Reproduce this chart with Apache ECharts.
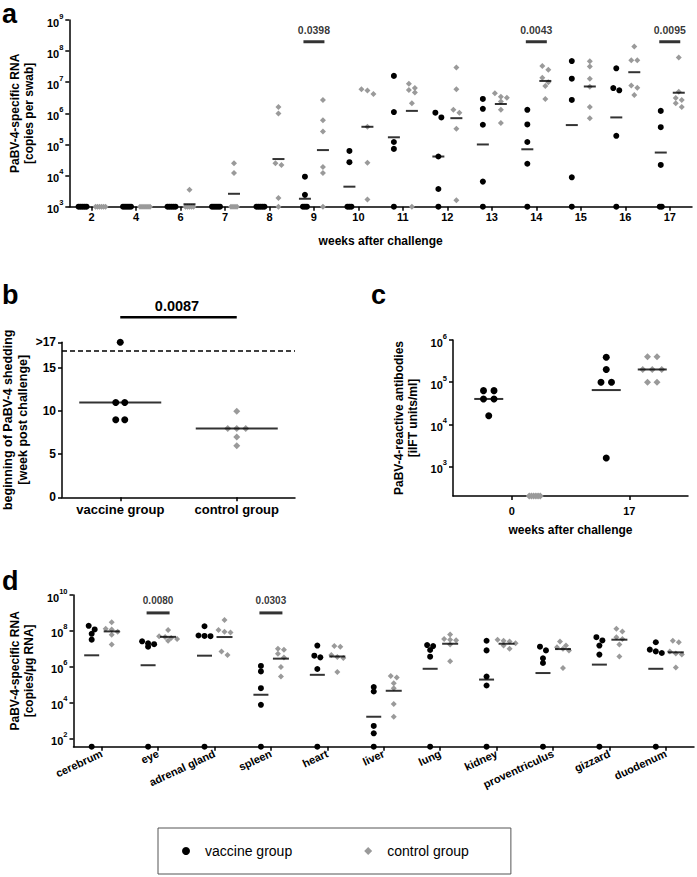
<!DOCTYPE html>
<html><head><meta charset="utf-8">
<script src="https://cdn.jsdelivr.net/npm/echarts@6/dist/echarts.min.js"></script>
<style>html,body{margin:0;padding:0;background:#fff}#chart{width:697px;height:877px}</style>
</head><body><div id="chart"></div>
<script>
const FONT = 'Arial, "Liberation Sans", Helvetica, sans-serif';
const INK = '#000000';
const GREY = '#9a9a9a';

// ---------- panel a: shedding (copies per swab); 0 = not detected ----------
const weeksA = ['2','4','6','7','8','9','10','11','12','13','14','15','16','17'];
const vaccA = [
  [0,0,0,0,0],
  [0,0,0,0,0],
  [0,0,0,0,0],
  [0,0,0,0,0],
  [0,0,0,0,0],
  [9200,2400,0,0,0],
  [62000,27000,0,0,0],
  [1.6e7,1.1e6,1.2e5,7.2e4,0],
  [1.05e6,7.4e5,4.1e4,3.7e3,0],
  [2.9e6,1.4e6,4.3e5,6.4e3,0],
  [1.3e6,4.4e5,1.2e5,2.4e4,0],
  [4.8e7,1.3e7,2.7e6,8.8e3,0],
  [2.8e7,6.5e6,5.5e6,1.9e5,0],
  [1.2e6,3.6e5,2.2e4,0,0]
];
const ctrlA = [
  [0,0,0,0,0,0],
  [0,0,0,0,0,0],
  [3500,0,0,0,0,0],
  [2.5e4,1.2e4,0,0,0,0],
  [1.6e6,9.8e5,2.5e4,2.2e4,1.9e3,0],
  [2.7e6,6e5,2.6e5,1.9e4,1.2e4,0],
  [5.9e6,5.4e6,4.2e6,3.7e5,2.6e4,1.7e3],
  [8.9e6,6.5e6,5.6e6,4.7e6,2.1e6,0],
  [3e7,5.9e6,1.3e6,1.05e6,3.2e5,1.6e3],
  [4.4e6,3.4e6,3.2e6,2.4e6,1.3e6,4.9e5],
  [3.3e7,2.5e7,1.4e7,1e7,7.6e6,2.9e6],
  [4.7e7,3.2e7,1.3e7,7.1e6,1.6e6,6.9e5],
  [1.4e8,5.1e7,5.1e7,7.8e6,6.6e6,3.9e6],
  [6.2e7,4.9e6,3.1e6,2.7e6,2.1e6,1.6e6]
];
const vaccMeanA = [null,null,null,null,null,1800,4400,1.7e5,4.1e4,1e5,7e4,4.2e5,7.4e5,5.5e4];
const ctrlMeanA = [null,null,1200,2600,3.4e4,6.6e4,3.7e5,1.2e6,7e5,2e6,1.1e7,7.3e6,2.1e7,4.6e6];
const sigWeeksA = ['9','14','17'];
const sigTextA = ['0.0398','0.0043','0.0095'];
const sigLevelA = 2e8;
const yTicksA = [1e3,1e4,1e5,1e6,1e7,1e8,1e9];

// ---------- panel b: beginning of shedding ----------
const groupsB = ['vaccine group','control group'];
const vaccB = [18,11,11,9,9];
const ctrlB = [10,8,8,8,7,6];
const medianB = [11,8];
const thresholdB = 17;
const yTicksB = [0,5,10,15,18];
const yTickLabelsB = ['0','5','10','15','>17'];
const sigTextB = '0.0087';
const sigLevelB = 20.9;

// ---------- panel c: antibodies ----------
const weeksC = ['0','17'];
const vaccC = [[6.3e4,6.3e4,4e4,4e4,1.6e4],[3.9e5,2e5,1e5,1e5,1.6e3]];
const ctrlC = [[0,0,0,0,0,0],[4e5,4e5,2e5,2e5,2e5,1e5,1e5]];
const vaccMeanC = [4e4,6.5e4];
const ctrlMeanC = [null,2e5];
const yTicksC = [1e3,1e4,1e5,1e6];

// ---------- panel d: organs ----------
const organs = ['cerebrum','eye','adrenal gland','spleen','heart','liver','lung','kidney','proventriculus','gizzard','duodenum'];
const vaccD = [
  [1.9e8,1.2e8,6.8e7,3.2e7,0],
  [2.6e7,2e7,1.8e7,1.3e7,0],
  [1.8e8,5.5e7,5.2e7,5e7,0],
  [1.1e6,5.4e5,6.3e4,7.4e3,0],
  [1.5e7,4.1e6,3.3e6,7.4e5,0],
  [7.2e4,4.1e4,490,190,0],
  [1.6e7,1.4e7,8.5e6,3.6e6,0],
  [2.8e7,8.1e6,2.8e5,8.9e4,0],
  [1.3e7,8.1e6,2.9e6,1.6e6,0],
  [4.4e7,2.9e7,1.5e7,4.7e6,0],
  [2.3e7,8.9e6,7.1e6,5.8e6,0]
];
const ctrlD = [
  [3e8,1.3e8,1.2e8,9e7,6e7,1.7e7],
  [1.1e8,5e7,4.5e7,4e7,3.5e7,2.8e7],
  [4e8,1.1e8,9e7,8e7,7e6,4.5e6],
  [1e7,8.9e6,5.3e6,3.2e6,9.5e5,2.8e5],
  [1.4e7,1.3e7,4.5e6,3.5e6,3e6,5e5],
  [3e5,2.5e5,1.2e5,6.3e4,8.3e3,1.6e3],
  [6.2e7,3.5e7,3.2e7,3e7,1.7e7,2e6],
  [3.2e7,2.8e7,2.5e7,2e7,1.5e7,1e7],
  [2.5e7,1.5e7,1.2e7,1e7,8e6,8.3e5],
  [1.3e8,9.3e7,4.4e7,3.5e7,1.7e7,3.7e6],
  [2.8e7,2.3e7,7.1e6,5.5e6,4.7e6,9.1e5]
];
const vaccMeanD = [4.3e6,1.2e6,4.1e6,2.7e4,3.5e5,1.6e3,7.6e5,1.9e5,4.4e5,1.3e6,7.6e5];
const ctrlMeanD = [9.3e7,4.6e7,4.5e7,2.8e6,3.7e6,4.5e4,1.9e7,1.9e7,9.6e6,3.2e7,6.3e6];
const sigOrgansD = ['eye','spleen'];
const sigTextD = ['0.0080','0.0303'];
const sigLevelD = 1e9;
const yTicksD = [1e2,1e4,1e6,1e8,1e10];

// ---------- layout ----------
const G = [
  {left:62, top:20, width:630, height:186.7, min:1e3, max:1e9, log:true},
  {left:62, top:342.3, width:233, height:155, min:0, max:18, log:false},
  {left:453, top:340, width:235, height:156, min:200, max:1e6, log:true},
  {left:62, top:595, width:632, height:151.7, min:34, max:1e10, log:true}
];
function pxFn(g){
  if (g.log){ const k = g.height/(Math.log10(g.max)-Math.log10(g.min)); return v => Math.log10(v)*k; }
  const k = g.height/(g.max-g.min); return v => v*k;
}

function swarmOffsets(values, toPx, rowThr, step, ndStep){
  const offs = values.map(()=>0);
  const idx = values.map((v,i)=>i);
  const nd = idx.filter(i=>values[i]===0);
  nd.forEach((i,k)=>{ offs[i] = (k-(nd.length-1)/2)*ndStep; });
  const det = idx.filter(i=>values[i]!==0).sort((a,b)=>values[b]-values[a]);
  const rows=[]; let cur=[];
  det.forEach(i=>{
    if (cur.length && Math.abs(toPx(values[cur[0]])-toPx(values[i]))>rowThr){ rows.push(cur); cur=[]; }
    cur.push(i);
  });
  if (cur.length) rows.push(cur);
  rows.forEach(r=>r.forEach((i,k)=>{ offs[i]=(k-(r.length-1)/2)*step; }));
  return offs;
}

function pointSeries(name, gi, cats, groups, offset, symbol, size, color, rowThr, step, ndStep){
  const g = G[gi], toPx = pxFn(g);
  const data = [];
  groups.forEach((vals, ci)=>{
    const offs = swarmOffsets(vals, toPx, rowThr, step, ndStep);
    vals.forEach((v,k)=>data.push({value:[cats[ci], v===0 ? g.min : v], symbolOffset:[offset+offs[k],0]}));
  });
  return {type:'scatter', name, xAxisIndex:gi, yAxisIndex:gi, data, symbol, symbolSize:size,
    itemStyle:{color, opacity:1}, clip:false, z:3, silent:true, emphasis:{disabled:true}};
}
function meanSeries(gi, cats, means, offset, width){
  const data = [];
  means.forEach((m,i)=>{ if (m!=null) data.push({value:[cats[i], m], symbolOffset:[offset,0]}); });
  return {type:'scatter', name:'_mean'+gi, xAxisIndex:gi, yAxisIndex:gi, data, symbol:'rect',
    symbolSize:[width,2], itemStyle:{color:INK}, clip:false, z:5, silent:true};
}
function sigSeries(gi, cats, texts, level, width, fontSize, dist){
  return {type:'scatter', name:'_sig'+gi, xAxisIndex:gi, yAxisIndex:gi, clip:false, silent:true, z:5,
    symbol:'rect', symbolSize:[width,3], itemStyle:{color:INK},
    data: cats.map((c,i)=>({value:[c, level], label:{formatter:texts[i]}})),
    label:{show:true, position:'top', distance:dist, color:INK, fontFamily:FONT, fontWeight:'bold', fontSize}};
}

const RICH = {
  b:{fontFamily:FONT, fontSize:11, fontWeight:'bold', color:INK, lineHeight:16, verticalAlign:'bottom'},
  s:{fontFamily:FONT, fontSize:7.5, fontWeight:'bold', color:INK, lineHeight:16, verticalAlign:'top'}
};
function powLabel(v){ const e = Math.round(Math.log10(v)); return '{b|10}{s|'+e+'}'; }
const axisLine = {show:true, onZero:false, lineStyle:{color:INK, width:1.5}};
const tickStyle = {show:true, length:4, lineStyle:{color:INK, width:1.5}};
const nameStyle = (fs)=>({fontFamily:FONT, fontWeight:'bold', fontSize:fs, color:INK, lineHeight:fs+2});

function catAxis(gi, cats, fs, margin, extra){
  return Object.assign({type:'category', gridIndex:gi, data:cats, boundaryGap:true,
    axisLine, axisTick:Object.assign({alignWithLabel:true, interval:0}, tickStyle),
    axisLabel:{interval:0, color:INK, fontFamily:FONT, fontWeight:'bold', fontSize:fs, margin},
    splitLine:{show:false}}, extra||{});
}
function logAxis(gi, ticks, name, gap){
  const g = G[gi];
  return {type:'log', logBase:10, gridIndex:gi, min:g.min, max:g.max,
    axisLine, axisTick:Object.assign({customValues:ticks}, tickStyle),
    axisLabel:{customValues:ticks, formatter:powLabel, rich:RICH, margin:6},
    splitLine:{show:false}, minorTick:{show:false},
    name, nameLocation:'middle', nameRotate:90, nameGap:gap, nameTextStyle:nameStyle(12)};
}

const series = [
  pointSeries('vaccine group', 0, weeksA, vaccA, -9, 'circle', 6, INK, 5, 6, 2),
  pointSeries('control group', 0, weeksA, ctrlA, 9, 'diamond', 6, GREY, 5, 6, 2),
  meanSeries(0, weeksA, vaccMeanA, -9, 12),
  meanSeries(0, weeksA, ctrlMeanA, 9, 12),
  sigSeries(0, sigWeeksA, sigTextA, sigLevelA, 21, 10.5, 5),

  pointSeries('vaccine group', 1, groupsB, [vaccB, []], 0, 'circle', 7, INK, 4, 9, 2),
  pointSeries('control group', 1, groupsB, [[], ctrlB], 0, 'diamond', 7, GREY, 4, 9, 2),
  meanSeries(1, groupsB, medianB, 0, 82),
  {type:'line', name:'_sigb', xAxisIndex:1, yAxisIndex:1, clip:false, silent:true, symbol:'none',
   data:[[groupsB[0], sigLevelB],[groupsB[1], sigLevelB]], lineStyle:{color:INK, width:2.5}, z:5,
   markLine:{silent:true, symbol:'none', label:{show:false},
     lineStyle:{color:INK, width:1.5, type:[5,3]}, data:[{yAxis:thresholdB}]}},

  pointSeries('vaccine group', 2, weeksC, vaccC, -23, 'circle', 7, INK, 5, 10.5, 2.2),
  pointSeries('control group', 2, weeksC, ctrlC, 23, 'diamond', 7, GREY, 5, 9.5, 2.2),
  meanSeries(2, weeksC, vaccMeanC, -23, 29),
  meanSeries(2, weeksC, ctrlMeanC, 23, 29),

  pointSeries('vaccine group', 3, organs, vaccD, -10, 'circle', 6, INK, 4, 6, 2),
  pointSeries('control group', 3, organs, ctrlD, 10, 'diamond', 6, GREY, 4, 6, 2),
  meanSeries(3, organs, vaccMeanD, -10, 15),
  meanSeries(3, organs, ctrlMeanD, 10, 16),
  sigSeries(3, sigOrgansD, sigTextD, sigLevelD, 23, 10, 6)
];

const panelLabel = (t, left, top)=>({text:t, left, top, padding:0,
  textStyle:{fontFamily:FONT, fontWeight:'bold', fontSize:27, color:INK, lineHeight:27}});

const option = {
  animation:false,
  backgroundColor:'#ffffff',
  title:[
    panelLabel('a', 2, 0),
    panelLabel('b', 2, 281),
    panelLabel('c', 371, 281),
    panelLabel('d', 2, 567),
    {text:sigTextB, left:177, top:298, textAlign:'center', padding:0,
     textStyle:{fontFamily:FONT, fontWeight:'bold', fontSize:14.5, color:INK}}
  ],
  legend:{
    left:158, top:828, orient:'horizontal',
    padding:[16,42,16,24], itemGap:72, itemWidth:8, itemHeight:8,
    borderColor:'#555555', borderWidth:1, selectedMode:false,
    textStyle:{fontFamily:FONT, fontSize:14, color:INK, padding:[0,0,0,10]},
    data:[{name:'vaccine group', icon:'circle'},{name:'control group', icon:'diamond'}]
  },
  grid: G.map(g=>({left:g.left, top:g.top, width:g.width, height:g.height, containLabel:false})),
  xAxis:[
    catAxis(0, weeksA, 11, 5, {name:'weeks after challenge', nameLocation:'middle', nameGap:27, nameTextStyle:nameStyle(12)}),
    catAxis(1, groupsB, 13, 6),
    catAxis(2, weeksC, 11, 9, {name:'weeks after challenge', nameLocation:'middle', nameGap:27, nameTextStyle:nameStyle(12)}),
    catAxis(3, organs, 11, 6, {axisLabel:{interval:0, rotate:25, color:INK, fontFamily:FONT, fontWeight:'bold', fontSize:11, margin:6}})
  ],
  yAxis:[
    logAxis(0, yTicksA, 'PaBV-4-specific RNA\n[copies per swab]', 30),
    {type:'value', gridIndex:1, min:G[1].min, max:G[1].max,
     axisLine, axisTick:Object.assign({customValues:yTicksB}, tickStyle),
     axisLabel:{customValues:yTicksB, formatter:v=>yTickLabelsB[yTicksB.indexOf(v)], color:INK,
       fontFamily:FONT, fontWeight:'bold', fontSize:12, margin:6},
     splitLine:{show:false},
     name:'beginning of PaBV-4 shedding\n[week post challenge]', nameLocation:'middle', nameRotate:90,
     nameGap:32, nameTextStyle:nameStyle(12.5)},
    logAxis(2, yTicksC, 'PaBV-4-reactive antibodies\n[iIFT units/ml]', 33),
    logAxis(3, yTicksD, 'PaBV-4-specific RNA\n[copies/\u00b5g RNA]', 34)
  ],
  series
};

const chart = echarts.init(document.getElementById('chart'), null, {renderer:'svg'});
chart.setOption(option);
</script></body></html>
